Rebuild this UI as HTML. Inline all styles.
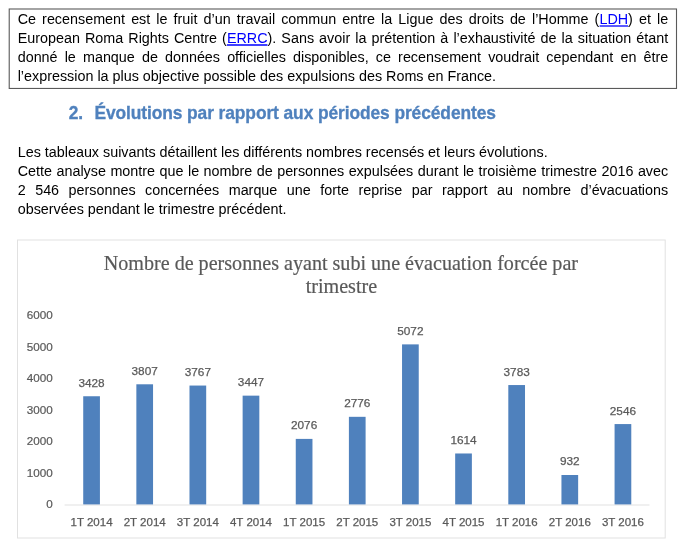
<!DOCTYPE html>
<html lang="fr">
<head>
<meta charset="utf-8">
<title>Recensement</title>
<style>
html,body{margin:0;padding:0;background:#fff;}
body{width:684px;height:550px;position:relative;overflow:hidden;font-family:"Liberation Sans",sans-serif;color:#000;}
.ln{position:absolute;left:17.7px;width:650.5px;height:19px;line-height:19px;font-size:14.35px;white-space:nowrap;text-align:justify;text-align-last:justify;}
.ln.l{text-align:left;text-align-last:left;}
a{color:#0000ff;text-decoration:none;}
#wrap{position:absolute;left:0;top:0;width:684px;height:550px;will-change:transform;}
svg{position:absolute;left:0;top:0;}
svg text{font-family:"Liberation Sans",sans-serif;fill:#595959;}
svg text.h{font-size:17.4px;font-weight:bold;fill:#4f81bd;letter-spacing:-0.09px;stroke:#4f81bd;stroke-width:0.3px;}
svg text.t{font-family:"Liberation Serif",serif;font-size:20.1px;stroke:#595959;stroke-width:0.2px;}
</style>
</head>
<body>
<div id="wrap">
<div class="ln" style="top:10px">Ce recensement est le fruit d’un travail commun entre la Ligue des droits de l’Homme (<a>LDH</a>) et le</div>
<div class="ln" style="top:29px">European Roma Rights Centre (<a>ERRC</a>). Sans avoir la prétention à l’exhaustivité de la situation étant</div>
<div class="ln" style="top:48px">donné le manque de données officielles disponibles, ce recensement voudrait cependant en être</div>
<div class="ln l" style="top:67px">l’expression la plus objective possible des expulsions des Roms en France.</div>

<div class="ln l" style="top:143px">Les tableaux suivants détaillent les différents nombres recensés et leurs évolutions.</div>
<div class="ln" style="top:162px">Cette analyse montre que le nombre de personnes expulsées durant le troisième trimestre 2016 avec</div>
<div class="ln" style="top:181px">2 546 personnes concernées marque une forte reprise par rapport au nombre d’évacuations</div>
<div class="ln l" style="top:200px">observées pendant le trimestre précédent.</div>

<svg width="684" height="550" viewBox="0 0 684 550">
<rect x="9.22" y="9" width="667.28" height="79.45" fill="none" stroke="#5a5a5a" stroke-width="1.1"/>
<line x1="599.6" y1="26" x2="628.1" y2="26" stroke="#0000ff" stroke-width="1.3"/>
<line x1="226.9" y1="45" x2="267.5" y2="45" stroke="#0000ff" stroke-width="1.3"/>
<rect x="17.5" y="240" width="647.7" height="298" fill="none" stroke="#e1e1e1" stroke-width="1"/>
<text class="h" transform="translate(0,119) scale(1,1.07)"><tspan x="68.8" y="0">2.</tspan><tspan x="94.4" y="0">Évolutions par rapport aux périodes précédentes</tspan></text>
<text class="t" x="340.9" y="270" text-anchor="middle">Nombre de personnes ayant subi une évacuation forcée par</text>
<text class="t" x="341.4" y="292.7" text-anchor="middle">trimestre</text>
<!--CHART-->
<line x1="64.6" y1="505" x2="649.5" y2="505" stroke="#e1e1e1" stroke-width="1.2"/>
<text x="52.8" y="508.40" text-anchor="end" font-size="11.7" stroke="#595959" stroke-width="0.2">0</text>
<text x="52.8" y="476.85" text-anchor="end" font-size="11.7" stroke="#595959" stroke-width="0.2">1000</text>
<text x="52.8" y="445.30" text-anchor="end" font-size="11.7" stroke="#595959" stroke-width="0.2">2000</text>
<text x="52.8" y="413.75" text-anchor="end" font-size="11.7" stroke="#595959" stroke-width="0.2">3000</text>
<text x="52.8" y="382.20" text-anchor="end" font-size="11.7" stroke="#595959" stroke-width="0.2">4000</text>
<text x="52.8" y="350.65" text-anchor="end" font-size="11.7" stroke="#595959" stroke-width="0.2">5000</text>
<text x="52.8" y="319.10" text-anchor="end" font-size="11.7" stroke="#595959" stroke-width="0.2">6000</text>
<rect x="83.22" y="396.25" width="16.7" height="108.15" fill="#4f81bd"/>
<text x="91.57" y="386.70" text-anchor="middle" font-size="11.8" stroke="#595959" stroke-width="0.25">3428</text>
<text x="91.57" y="525.5" text-anchor="middle" font-size="11.5" stroke="#595959" stroke-width="0.25">1T 2014</text>
<rect x="136.35" y="384.29" width="16.7" height="120.11" fill="#4f81bd"/>
<text x="144.70" y="374.74" text-anchor="middle" font-size="11.8" stroke="#595959" stroke-width="0.25">3807</text>
<text x="144.70" y="525.5" text-anchor="middle" font-size="11.5" stroke="#595959" stroke-width="0.25">2T 2014</text>
<rect x="189.49" y="385.55" width="16.7" height="118.85" fill="#4f81bd"/>
<text x="197.84" y="376.00" text-anchor="middle" font-size="11.8" stroke="#595959" stroke-width="0.25">3767</text>
<text x="197.84" y="525.5" text-anchor="middle" font-size="11.5" stroke="#595959" stroke-width="0.25">3T 2014</text>
<rect x="242.63" y="395.65" width="16.7" height="108.75" fill="#4f81bd"/>
<text x="250.98" y="386.10" text-anchor="middle" font-size="11.8" stroke="#595959" stroke-width="0.25">3447</text>
<text x="250.98" y="525.5" text-anchor="middle" font-size="11.5" stroke="#595959" stroke-width="0.25">4T 2014</text>
<rect x="295.76" y="438.90" width="16.7" height="65.50" fill="#4f81bd"/>
<text x="304.11" y="429.35" text-anchor="middle" font-size="11.8" stroke="#595959" stroke-width="0.25">2076</text>
<text x="304.11" y="525.5" text-anchor="middle" font-size="11.5" stroke="#595959" stroke-width="0.25">1T 2015</text>
<rect x="348.90" y="416.82" width="16.7" height="87.58" fill="#4f81bd"/>
<text x="357.25" y="407.27" text-anchor="middle" font-size="11.8" stroke="#595959" stroke-width="0.25">2776</text>
<text x="357.25" y="525.5" text-anchor="middle" font-size="11.5" stroke="#595959" stroke-width="0.25">2T 2015</text>
<rect x="402.04" y="344.38" width="16.7" height="160.02" fill="#4f81bd"/>
<text x="410.39" y="334.83" text-anchor="middle" font-size="11.8" stroke="#595959" stroke-width="0.25">5072</text>
<text x="410.39" y="525.5" text-anchor="middle" font-size="11.5" stroke="#595959" stroke-width="0.25">3T 2015</text>
<rect x="455.17" y="453.48" width="16.7" height="50.92" fill="#4f81bd"/>
<text x="463.52" y="443.93" text-anchor="middle" font-size="11.8" stroke="#595959" stroke-width="0.25">1614</text>
<text x="463.52" y="525.5" text-anchor="middle" font-size="11.5" stroke="#595959" stroke-width="0.25">4T 2015</text>
<rect x="508.31" y="385.05" width="16.7" height="119.35" fill="#4f81bd"/>
<text x="516.66" y="375.50" text-anchor="middle" font-size="11.8" stroke="#595959" stroke-width="0.25">3783</text>
<text x="516.66" y="525.5" text-anchor="middle" font-size="11.5" stroke="#595959" stroke-width="0.25">1T 2016</text>
<rect x="561.45" y="475.00" width="16.7" height="29.40" fill="#4f81bd"/>
<text x="569.80" y="465.45" text-anchor="middle" font-size="11.8" stroke="#595959" stroke-width="0.25">932</text>
<text x="569.80" y="525.5" text-anchor="middle" font-size="11.5" stroke="#595959" stroke-width="0.25">2T 2016</text>
<rect x="614.58" y="424.07" width="16.7" height="80.33" fill="#4f81bd"/>
<text x="622.93" y="414.52" text-anchor="middle" font-size="11.8" stroke="#595959" stroke-width="0.25">2546</text>
<text x="622.93" y="525.5" text-anchor="middle" font-size="11.5" stroke="#595959" stroke-width="0.25">3T 2016</text>
</svg>
</div>
</body>
</html>
